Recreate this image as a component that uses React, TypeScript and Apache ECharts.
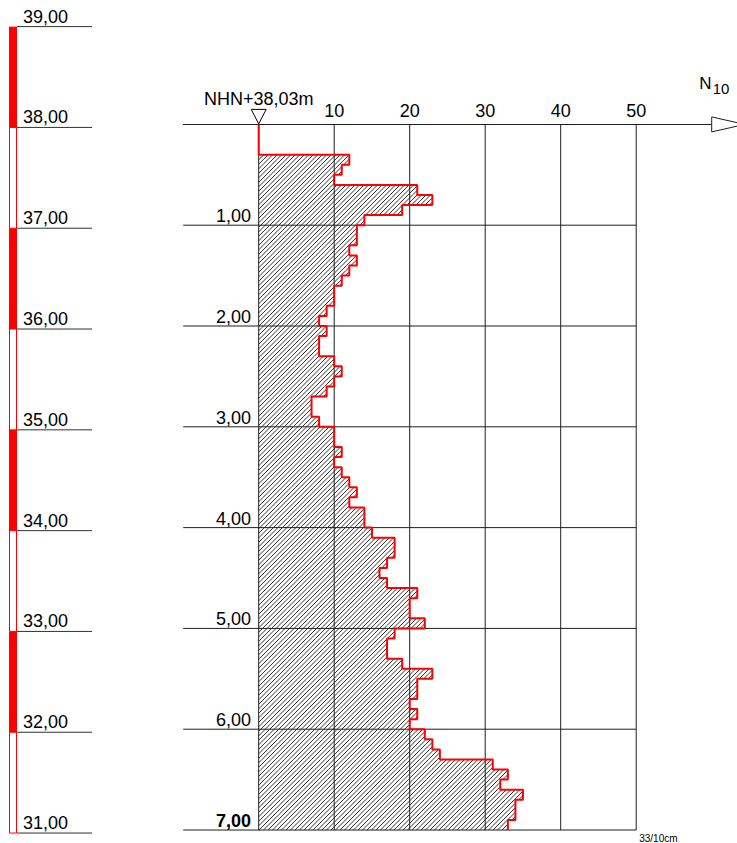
import React, { useEffect, useRef } from 'react';
import * as echarts from 'echarts';

// Dynamic probing log: blows N10 per 10 cm of penetration, listed from ground level downwards.
const stepDepth = 0.1;
const blowCounts = [
  0, 0, 0, 12, 11, 10, 21, 23, 19, 14,
  13, 13, 12, 13, 12, 11, 10, 10, 9, 8,
  9, 8, 8, 10, 11, 10, 9, 7, 7, 8,
  10, 10, 11, 10, 11, 12, 13, 12, 14, 14,
  15, 18, 18, 17, 16, 17, 21, 20, 20, 22,
  18, 17, 17, 19, 23, 21, 21, 20, 21, 20,
  22, 23, 24, 31, 33, 32, 35, 34, 34, 33,
];
const groundLevel = 38.03; // m NHN at the probing start point
const depthTicks = [0, 1, 2, 3, 4, 5, 6, 7];
const blowTicks = [0, 10, 20, 30, 40, 50];
const elevationTicks = [31, 32, 33, 34, 35, 36, 37, 38, 39];
const layerBottoms = [31, 32, 33, 34, 35, 36, 37, 38];
const layerFilled = [false, true, false, true, false, true, false, true];

const FONT = '"Liberation Sans", Arial, Helvetica, sans-serif';
const FS = 18;
const RED = '#ff0000';
const LINE = '#1e1e1e';

const fmt = (v: number) => v.toFixed(2).replace('.', ',');
const isWhole = (v: number) => Math.abs(v - Math.round(v)) < 1e-9;
const round1 = (v: number) => Math.round(v * 10) / 10;

// 45° hatching clipped to one rectangle; lines share a global phase so they
// run on continuously from one step to the next.
function hatchPath(x0: number, y0: number, x1: number, y1: number, s: number): string {
  const left = Math.min(x0, x1), right = Math.max(x0, x1);
  const top = Math.min(y0, y1), bottom = Math.max(y0, y1);
  let d = '';
  const kStart = Math.ceil((left + top) / s);
  const kEnd = Math.floor((right + bottom) / s);
  for (let k = kStart; k <= kEnd; k++) {
    const c = k * s;
    const xa = Math.max(left, c - bottom);
    const xb = Math.min(right, c - top);
    if (xb - xa < 0.05) continue;
    d += `M${xa.toFixed(2)} ${(c - xa).toFixed(2)}L${xb.toFixed(2)} ${(c - xb).toFixed(2)}`;
  }
  return d;
}

// staircase outline of the blow counts
const outline: number[][] = [];
blowCounts.forEach((v, i) => {
  outline.push([v, round1(i * stepDepth)], [v, round1((i + 1) * stepDepth)]);
});

const rowStart = -10;
const rowEnd = blowTicks[blowTicks.length - 1];
const maxDepth = depthTicks[depthTicks.length - 1];

const option: any = {
  animation: false,
  backgroundColor: '#ffffff',
  grid: { left: 183.2, top: 124.4, width: 528.5, height: 715.7, containLabel: false },
  xAxis: {
    type: 'value',
    position: 'top',
    min: -10,
    max: 60,
    interval: 10,
    axisLine: { show: true, onZero: false, lineStyle: { color: LINE, width: 1 } },
    axisTick: { show: false },
    splitLine: { show: false },
    axisLabel: {
      show: true,
      margin: 4,
      fontSize: FS,
      fontFamily: FONT,
      color: '#000',
      formatter: (v: number) => (v > 0 && v <= rowEnd && isWhole(v) ? String(v) : ''),
    },
  },
  yAxis: {
    type: 'value',
    inverse: true,
    min: 0,
    max: 7.1,
    interval: 1,
    axisLine: { show: false, onZero: false },
    axisTick: { show: false },
    splitLine: { show: false },
    axisLabel: {
      margin: -67.8,
      fontSize: FS,
      fontFamily: FONT,
      color: '#000',
      align: 'right',
      verticalAlign: 'bottom',
      formatter: (v: number) => {
        if (!(v > 0) || !isWhole(v)) return '';
        return v === maxDepth ? `{b|${fmt(v)}}` : fmt(v);
      },
      rich: { b: { fontWeight: 'bold', fontSize: FS, fontFamily: FONT, color: '#000', verticalAlign: 'bottom' } },
    },
  },
  series: [
    {
      // hatched body of the sounding diagram
      type: 'custom',
      name: 'hatch',
      silent: true,
      z: 1,
      data: blowCounts.map((v, i) => [v, round1(i * stepDepth)]),
      renderItem: (_p: any, api: any) => {
        const v = api.value(0);
        const d = api.value(1);
        if (!(v > 0)) return null;
        const a = api.coord([0, d]);
        const b = api.coord([v, d + stepDepth]);
        return {
          type: 'path',
          shape: { pathData: hatchPath(a[0], a[1], b[0], b[1], 4.5) },
          style: { stroke: '#000', lineWidth: 0.8, fill: 'none' },
        };
      },
    },
    {
      // horizontal depth lines
      type: 'custom',
      name: 'rows',
      silent: true,
      z: 2,
      data: depthTicks.filter((d) => d > 0).map((d) => [rowStart, d]),
      renderItem: (_p: any, api: any) => {
        const d = api.value(1);
        const a = api.coord([rowStart, d]);
        const b = api.coord([rowEnd, d]);
        return { type: 'line', shape: { x1: a[0], y1: a[1], x2: b[0], y2: b[1] }, style: { stroke: LINE, lineWidth: 1 } };
      },
    },
    {
      // vertical blow-count lines
      type: 'custom',
      name: 'columns',
      silent: true,
      z: 2,
      data: blowTicks.map((b) => [b, 0]),
      renderItem: (_p: any, api: any) => {
        const x = api.value(0);
        const a = api.coord([x, 0]);
        const b = api.coord([x, maxDepth]);
        return { type: 'line', shape: { x1: a[0], y1: a[1], x2: b[0], y2: b[1] }, style: { stroke: LINE, lineWidth: 1 } };
      },
    },
    {
      type: 'line',
      name: 'N10',
      data: outline,
      showSymbol: false,
      symbol: 'none',
      z: 5,
      clip: false,
      lineStyle: { color: RED, width: 2 },
    },
    {
      // soil layer column on the elevation scale
      type: 'custom',
      name: 'layers',
      silent: true,
      z: 2,
      data: layerBottoms.map((b, i) => [0, groundLevel - b, layerFilled[i] ? 1 : 0]),
      renderItem: (_p: any, api: any) => {
        const dBottom = api.value(1);
        const filled = api.value(2) === 1;
        const yBottom = api.coord([0, dBottom])[1];
        const yTop = api.coord([0, dBottom - 1])[1];
        return filled
          ? { type: 'rect', shape: { x: 9, y: yTop, width: 8, height: yBottom - yTop }, style: { fill: RED, stroke: 'none' } }
          : {
              type: 'rect',
              shape: { x: 9.5, y: yTop, width: 7, height: yBottom - yTop },
              style: { fill: '#fff', stroke: RED, lineWidth: 1 },
            };
      },
    },
    {
      // elevation scale ticks with labels
      type: 'custom',
      name: 'elevation',
      silent: true,
      z: 3,
      data: elevationTicks.map((e) => [0, groundLevel - e, e]),
      renderItem: (_p: any, api: any) => {
        const y = api.coord([0, api.value(1)])[1];
        const e = api.value(2);
        return {
          type: 'group',
          children: [
            { type: 'line', shape: { x1: 17, y1: y, x2: 92, y2: y }, style: { stroke: '#333', lineWidth: 1 } },
            {
              type: 'text',
              x: 23,
              y: y - 1,
              style: { text: fmt(e), fill: '#000', font: `${FS}px ${FONT}`, align: 'left', verticalAlign: 'bottom' },
            },
          ],
        };
      },
    },
    {
      // start level marker, axis arrow, axis title and final blow note
      type: 'custom',
      name: 'annotations',
      silent: true,
      z: 6,
      data: [[0, 0]],
      renderItem: (_p: any, api: any) => {
        const o = api.coord([0, 0]);
        const end = api.coord([60, 0]);
        const last = blowCounts[blowCounts.length - 1];
        const foot = api.coord([rowEnd, maxDepth]);
        return {
          type: 'group',
          children: [
            {
              type: 'polygon',
              shape: { points: [[o[0] - 7.5, o[1] - 15], [o[0] + 7.5, o[1] - 15], [o[0], o[1] - 0.5]] },
              style: { fill: '#fff', stroke: '#000', lineWidth: 1 },
            },
            {
              type: 'text',
              x: o[0],
              y: o[1] - 16,
              style: {
                text: `NHN+${fmt(groundLevel)}m`,
                fill: '#000',
                font: `${FS}px ${FONT}`,
                align: 'center',
                verticalAlign: 'bottom',
              },
            },
            {
              type: 'polygon',
              shape: { points: [[end[0], end[1] - 7.5], [end[0], end[1] + 7.5], [end[0] + 33, end[1]]] },
              style: { fill: '#fff', stroke: LINE, lineWidth: 1 },
            },
            {
              type: 'text',
              x: end[0] - 12.5,
              y: end[1] - 32,
              style: { text: 'N', fill: '#000', font: `17px ${FONT}`, align: 'left', verticalAlign: 'bottom' },
            },
            {
              type: 'text',
              x: end[0] + 1,
              y: end[1] - 28,
              style: { text: '10', fill: '#000', font: `15px ${FONT}`, align: 'left', verticalAlign: 'bottom' },
            },
            {
              type: 'text',
              x: foot[0] + 3,
              y: foot[1] + 13,
              style: { text: `${last}/10cm`, fill: '#000', font: `10px ${FONT}`, align: 'left', verticalAlign: 'bottom' },
            },
          ],
        };
      },
    },
  ],
};

export default function App() {
  const ref = useRef<HTMLDivElement>(null);
  useEffect(() => {
    if (!ref.current) return;
    const chart = echarts.init(ref.current, null, { renderer: 'svg' });
    chart.setOption(option);
    return () => chart.dispose();
  }, []);
  return (
    <div
      ref={ref}
      style={{ position: 'absolute', left: 0, top: 0, width: 737, height: 843, background: '#fff' }}
    />
  );
}
